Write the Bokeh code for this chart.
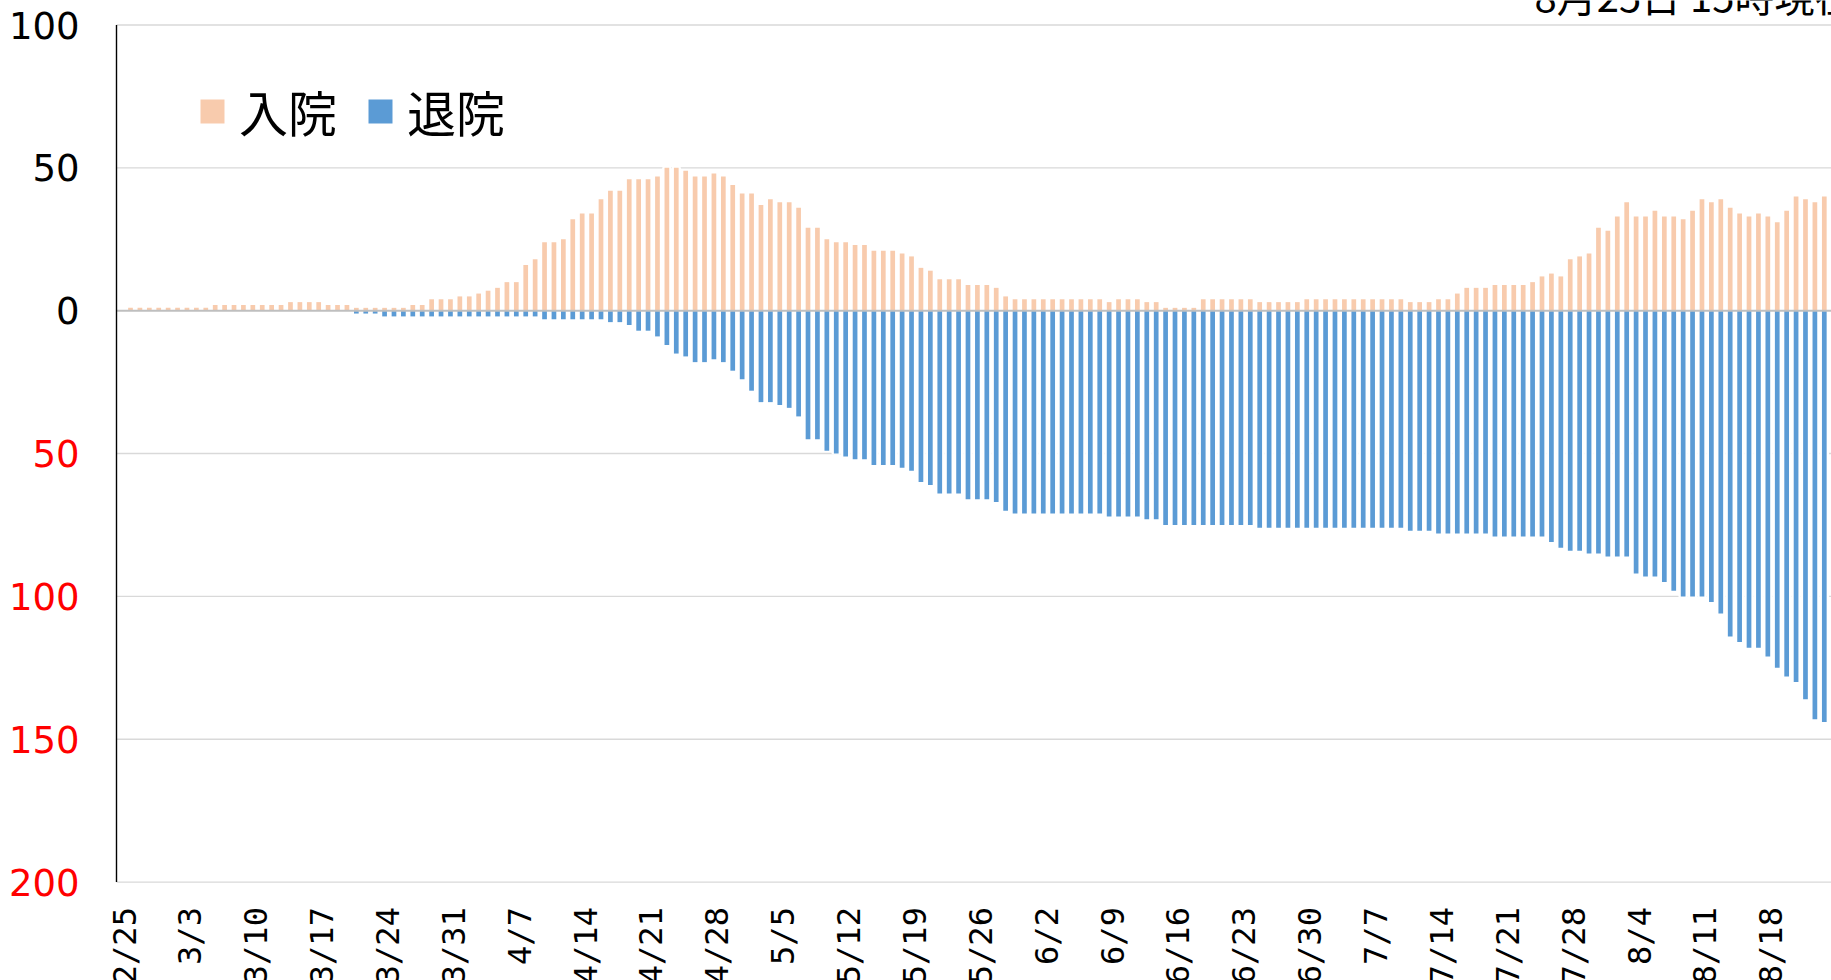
import pandas as pd
from bokeh.plotting import figure
from bokeh.models import Range1d, ColumnDataSource, Label, Legend, LegendItem
from bokeh.embed import file_html
from bokeh.resources import INLINE

# ---------------- data ----------------
first_day = "2020-02-25"

# 入院 (hospitalised), one value per day from 2/25
admitted = [
    1, 1, 1, 1, 1, 1, 1, 1, 1, 2, 2, 2, 2, 2, 2, 2, 2, 3, 3, 3,
    3, 2, 2, 2, 1, 1, 1, 1, 1, 1, 2, 2, 4, 4, 4, 5, 5, 6, 7, 8,
    10, 10, 16, 18, 24, 24, 25, 32, 34, 34, 39, 42, 42, 46, 46, 46, 47, 50, 50, 49,
    47, 47, 48, 47, 44, 41, 41, 37, 39, 38, 38, 36, 29, 29, 25, 24, 24, 23, 23, 21,
    21, 21, 20, 19, 15, 14, 11, 11, 11, 9, 9, 9, 8, 5, 4, 4, 4, 4, 4, 4,
    4, 4, 4, 4, 3, 4, 4, 4, 3, 3, 1, 1, 1, 1, 4, 4, 4, 4, 4, 4,
    3, 3, 3, 3, 3, 4, 4, 4, 4, 4, 4, 4, 4, 4, 4, 4, 3, 3, 3, 4,
    4, 6, 8, 8, 8, 9, 9, 9, 9, 10, 12, 13, 12, 18, 19, 20, 29, 28, 33, 38,
    33, 33, 35, 33, 33, 32, 35, 39, 38, 39, 36, 34, 33, 34, 33, 31, 35, 40, 39, 38,
    40,
]

# 退院 (discharged), one value per day from 2/25
discharged = [
    0, 0, 0, 0, 0, 0, 0, 0, 0, 0, 0, 0, 0, 0, 0, 0, 0, 0, 0, 0,
    0, 0, 0, 0, 1, 1, 1, 2, 2, 2, 2, 2, 2, 2, 2, 2, 2, 2, 2, 2,
    2, 2, 2, 2, 3, 3, 3, 3, 3, 3, 3, 4, 4, 5, 7, 7, 9, 12, 15, 16,
    18, 18, 17, 18, 21, 24, 28, 32, 32, 33, 34, 37, 45, 45, 49, 50, 51, 52, 52, 54,
    54, 54, 55, 56, 60, 61, 64, 64, 64, 66, 66, 66, 67, 70, 71, 71, 71, 71, 71, 71,
    71, 71, 71, 71, 72, 72, 72, 72, 73, 73, 75, 75, 75, 75, 75, 75, 75, 75, 75, 75,
    76, 76, 76, 76, 76, 76, 76, 76, 76, 76, 76, 76, 76, 76, 76, 76, 77, 77, 77, 78,
    78, 78, 78, 78, 78, 79, 79, 79, 79, 79, 79, 81, 83, 84, 84, 85, 85, 86, 86, 86,
    92, 93, 93, 95, 98, 100, 100, 100, 102, 106, 114, 116, 118, 118, 121, 125, 128, 130, 136, 143,
    144,
]

tick_labels = ["2/25", "3/3", "3/10", "3/17", "3/24", "3/31", "4/7", "4/14",
               "4/21", "4/28", "5/5", "5/12", "5/19", "5/26", "6/2", "6/9",
               "6/16", "6/23", "6/30", "7/7", "7/14", "7/21", "7/28", "8/4",
               "8/11", "8/18"]

y_ticks = [100, 50, 0, -50, -100, -150, -200]
y_tick_labels = ["100", "50", "0", "50", "100", "150", "200"]
y_tick_colors = ["#000000", "#000000", "#000000", "#FF0000", "#FF0000", "#FF0000", "#FF0000"]

series_names = ["入院", "退院"]
date_note = "8月25日 15時現在"

# ---------------- layout constants (pixels) ----------------
W, H = 1831, 980
AXIS_PX = 116          # left edge of the plotting area
FIRST_BAR_PX = 130     # centre of the first day's bar
DAY_PX = 9.41          # width of one day
TOP_PX, BOTTOM_PX = 24.5, 881.6   # y = 100 and y = -200
Y_LO, Y_HI = -200, 100
PX_PER_UNIT = (BOTTOM_PX - TOP_PX) / (Y_HI - Y_LO)

XR0 = -FIRST_BAR_PX / DAY_PX
XR1 = XR0 + W / DAY_PX
X_AXIS = XR0 + AXIS_PX / DAY_PX
YR1 = Y_HI + TOP_PX / PX_PER_UNIT
YR0 = Y_LO - (H - BOTTOM_PX) / PX_PER_UNIT

ORANGE = "#F8CBAD"
BLUE = "#5B9BD5"
GRID = "#D9D9D9"
NUM_FONT = "DejaVu Sans"
TICK_FONT = "DejaVu Sans Mono"
CJK_FONT = "Noto Sans CJK JP"

n = len(admitted)
days = list(range(n))
dates = [f"{d.month}/{d.day}" for d in pd.date_range(first_day, periods=n)]
tick_pos = [dates.index(t) for t in tick_labels]

src = ColumnDataSource(dict(
    x=days,
    adm=admitted,
    dis=[-v for v in discharged],
))

p = figure(width=W, height=H, output_backend="svg", toolbar_location=None,
           x_range=Range1d(XR0, XR1), y_range=Range1d(YR0, YR1),
           x_axis_location=None, y_axis_location=None,
           min_border=0)
p.outline_line_color = None
p.background_fill_color = "white"
p.border_fill_color = "white"
p.xgrid.visible = False
p.ygrid.visible = False

# horizontal gridlines of the plotting area
grid_vals = [t for t in y_ticks if t != 0]
p.segment(x0=[X_AXIS] * len(grid_vals), x1=[XR1] * len(grid_vals),
          y0=grid_vals, y1=grid_vals, line_color=GRID, line_width=1.4)

# white backing (hides gridlines between bars, like the original)
p.vbar(x="x", top="adm", bottom=0, width=0.8, source=src,
       fill_color="white", line_color="white", line_width=2)
p.vbar(x="x", top=0, bottom="dis", width=0.8, source=src,
       fill_color="white", line_color="white", line_width=2)

r_adm = p.vbar(x="x", top="adm", bottom=0, width=0.5, source=src,
               fill_color=ORANGE, line_color=None)
r_dis = p.vbar(x="x", top=0, bottom="dis", width=0.5, source=src,
               fill_color=BLUE, line_color=None)

# zero line and vertical axis line
p.segment(x0=[X_AXIS], x1=[XR1], y0=[0], y1=[0], line_color="#BFBFBF", line_width=2)
p.segment(x0=[X_AXIS], x1=[X_AXIS], y0=[Y_LO], y1=[Y_HI],
          line_color="#000000", line_width=1.4)

# y tick labels (black above zero, red below)
for yv, txt, col in zip(y_ticks, y_tick_labels, y_tick_colors):
    p.add_layout(Label(x=X_AXIS, y=yv, text=txt, x_offset=-37,
                       text_align="right", text_baseline="middle",
                       text_color=col, text_font=NUM_FONT,
                       text_font_size="37px"))

# x tick labels (rotated, reading upwards)
for xv, txt in zip(tick_pos, tick_labels):
    p.add_layout(Label(x=xv, y=Y_LO - 25 / PX_PER_UNIT, text=txt,
                       angle=1.5707963, x_offset=-6,
                       text_align="right", text_baseline="middle",
                       text_color="#000000", text_font=TICK_FONT,
                       text_font_size="32px"))

# date note (top right, cut by the page edge as in the original)
p.add_layout(Label(x=XR0 + 1534 / DAY_PX, y=Y_HI + 30 / PX_PER_UNIT,
                   text=date_note, text_align="left", text_baseline="middle",
                   text_font=CJK_FONT, text_font_size="40px",
                   text_color="#000000"))

legend = Legend(items=[LegendItem(label=series_names[0], renderers=[r_adm]),
                       LegendItem(label=series_names[1], renderers=[r_dis])],
                orientation="horizontal", location=(197, 834),
                glyph_width=30, glyph_height=30, label_standoff=12, spacing=28,
                padding=0, margin=0, border_line_color=None,
                background_fill_alpha=0,
                label_text_font=CJK_FONT, label_text_font_size="49px",
                label_text_color="#000000")
p.add_layout(legend)

open("out.html", "w").write(file_html(p, INLINE))
